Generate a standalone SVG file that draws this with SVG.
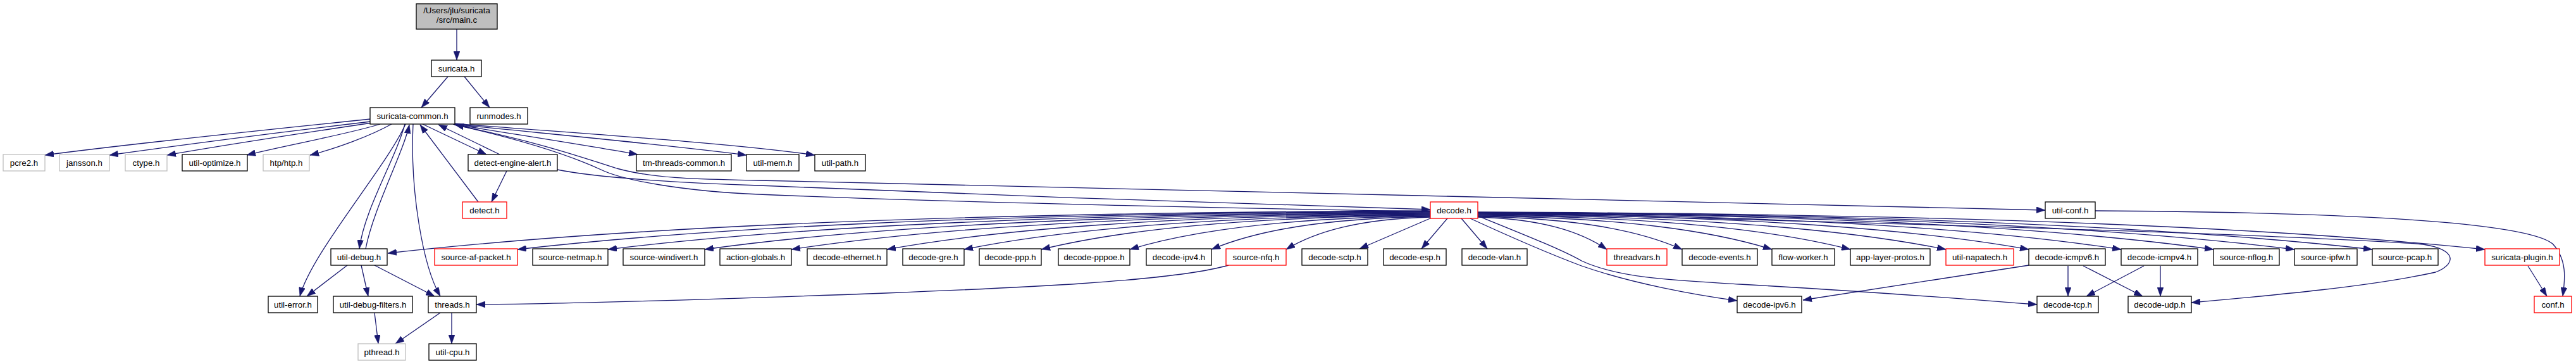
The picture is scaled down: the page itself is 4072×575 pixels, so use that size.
<svg xmlns="http://www.w3.org/2000/svg" width="4072" height="575" viewBox="0 0 4072 575">
<style>
text{font-family:"Liberation Sans",Arial,sans-serif;font-size:13.3px;fill:#000;text-anchor:middle}
.n rect{fill:#fff;stroke:#000;stroke-width:1.3}
.g rect{fill:#fff;stroke:#bfbfbf;stroke-width:1.3}
.r rect{fill:#fff;stroke:#ff0000;stroke-width:1.3}
.root rect{fill:#bfbfbf;stroke:#000;stroke-width:1.3}
#edges path{fill:none;stroke:#191970;stroke-width:1.3;marker-end:url(#arr)}
</style>
<defs>
<marker id="arr" markerUnits="userSpaceOnUse" markerWidth="14" markerHeight="10" viewBox="0 0 14 10" refX="14" refY="5" orient="auto">
<path d="M0,0 L14,5 L0,10 z" fill="#191970" stroke="#191970" stroke-width="0.5"/>
</marker>
</defs>
<rect width="4072" height="575" fill="#fff"/>
<g id="edges">
<path d="M722,46 L722,95"/>
<path d="M708,121 L666,170"/>
<path d="M734,121 L774,170"/>
<path d="M586,188 C420,205 200,228 71,245"/>
<path d="M586,192 C450,208 280,230 173,245"/>
<path d="M588,194 C480,210 350,230 264,245"/>
<path d="M601,196 C550,212 440,232 390,245"/>
<path d="M619,196 C585,215 530,235 490,245"/>
<path d="M641,196 C612,262 492,400 474,468"/>
<path d="M640,196 C626,250 576,330 568,393"/>
<path d="M578,393 C590,330 638,240 647,197"/>
<path d="M653,196 C648,300 668,420 696,468"/>
<path d="M756,319 L664,197"/>
<path d="M668,196 L769,244"/>
<path d="M790,244 L693,197"/>
<path d="M801,270 L777,319"/>
<path d="M716,196 C800,210 930,230 1008,244"/>
<path d="M716,196 C850,210 1050,228 1180,245"/>
<path d="M716,195 C900,210 1150,225 1288,245"/>
<path d="M718,197 C860,226 930,252 975,266 C1040,284 1120,283 1200,285 C1700,298 2700,318 3233,332"/>
<path d="M881,268 C950,282 1100,290 1200,293 C1500,305 2000,325 2261,331"/>
<path d="M2261,334 C2000,330 1500,320 1200,307 C1080,302 985,285 950,268 C900,245 830,222 719,197"/>
<path d="M2261,333 C1437,336 943,363 613,400"/>
<path d="M2261,334 C1540,337 1107,361 818,394"/>
<path d="M2261,335 C1611,338 1221,362 961,394"/>
<path d="M2261,336 C1688,339 1343,362 1114,394"/>
<path d="M2261,337 C1756,340 1453,363 1251,394"/>
<path d="M2261,338 C1832,341 1574,363 1402,394"/>
<path d="M2261,339 C1893,342 1671,364 1524,394"/>
<path d="M2261,340 C1954,343 1769,364 1646,394"/>
<path d="M2261,341 C2024,344 1881,365 1786,394"/>
<path d="M2261,342 C2088,345 1984,365 1915,394"/>
<path d="M2261,343 C2147,346 2079,366 2033,394"/>
<path d="M2263,344 L2149,393"/>
<path d="M2288,345 L2247,393"/>
<path d="M2310,345 L2351,393"/>
<path d="M2324,345 C2400,380 2460,405 2500,420 C2580,448 2680,466 2746,475"/>
<path d="M2336,341 C2420,375 2470,395 2500,412 C2560,440 2650,443 2750,449 C2950,460 3100,472 3220,481"/>
<path d="M2336,336 C2900,350 3600,370 3820,385 C3880,390 3888,415 3850,430 C3750,452 3600,466 3464,478"/>
<path d="M2336,343 C2438,346 2499,366 2540,394"/>
<path d="M2336,342 C2498,345 2594,365 2659,394"/>
<path d="M2336,341 C2569,344 2708,365 2801,394"/>
<path d="M2336,340 C2631,343 2807,364 2925,394"/>
<path d="M2336,339 C2706,342 2928,364 3076,394"/>
<path d="M2336,338 C2772,341 3033,363 3207,394"/>
<path d="M2336,337 C2845,340 3150,363 3353,394"/>
<path d="M2336,336.5 C2918,339 3266,362 3499,394"/>
<path d="M2336,336 C2982,339 3369,362 3627,394"/>
<path d="M2336,335.5 C3043,338 3467,362 3750,394"/>
<path d="M2336,335 C3132,338 3610,361 3928,394"/>
<path d="M3207,419 L2850,474"/>
<path d="M3269,420 L3269,468"/>
<path d="M3293,420 L3387,468"/>
<path d="M3389,420 L3298,468"/>
<path d="M3415,420 L3415,468"/>
<path d="M3312,333 C3700,335 3990,350 4035,385 C4058,410 4055,440 4051,468"/>
<path d="M3996,420 L4026,468"/>
<path d="M1942,419 C1850,445 1600,455 1400,463 C1100,474 900,480 753,481"/>
<path d="M549,419 L485,468"/>
<path d="M571,419 L582,468"/>
<path d="M592,419 L687,468"/>
<path d="M592,494 L598,543"/>
<path d="M696,494 L625,543"/>
<path d="M714,494 L714,543"/>
</g>
<g id="node-main" class="root"><rect x="658" y="6" width="128" height="40"/><text x="722" y="21">/Users/jlu/suricata</text><text x="722" y="36">/src/main.c</text></g>
<g id="node-suricata" class="n"><rect x="682" y="95" width="79" height="26"/><text x="721.5" y="112.5">suricata.h</text></g>
<g id="node-suricata-common" class="n"><rect x="585" y="170" width="134" height="26"/><text x="652" y="187.5">suricata-common.h</text></g>
<g id="node-runmodes" class="n"><rect x="743" y="170" width="91" height="26"/><text x="788.5" y="187.5">runmodes.h</text></g>
<g id="node-pcre2" class="g"><rect x="5" y="244" width="66" height="26"/><text x="38" y="261.5">pcre2.h</text></g>
<g id="node-jansson" class="g"><rect x="94" y="244" width="79" height="26"/><text x="133.5" y="261.5">jansson.h</text></g>
<g id="node-ctype" class="g"><rect x="198" y="244" width="66" height="26"/><text x="231" y="261.5">ctype.h</text></g>
<g id="node-util-optimize" class="n"><rect x="288" y="244" width="103" height="26"/><text x="339.5" y="261.5">util-optimize.h</text></g>
<g id="node-htp" class="g"><rect x="416" y="244" width="73" height="26"/><text x="452.5" y="261.5">htp/htp.h</text></g>
<g id="node-detect-engine-alert" class="n"><rect x="740" y="244" width="141" height="26"/><text x="810.5" y="261.5">detect-engine-alert.h</text></g>
<g id="node-tm-threads-common" class="n"><rect x="1006" y="244" width="150" height="26"/><text x="1081" y="261.5">tm-threads-common.h</text></g>
<g id="node-util-mem" class="n"><rect x="1180" y="244" width="83" height="26"/><text x="1221.5" y="261.5">util-mem.h</text></g>
<g id="node-util-path" class="n"><rect x="1288" y="244" width="80" height="26"/><text x="1328" y="261.5">util-path.h</text></g>
<g id="node-detect" class="r"><rect x="731" y="319" width="70" height="26"/><text x="766" y="336.5">detect.h</text></g>
<g id="node-decode" class="r"><rect x="2261" y="319" width="75" height="26"/><text x="2298.5" y="336.5">decode.h</text></g>
<g id="node-util-conf" class="n"><rect x="3233" y="319" width="79" height="26"/><text x="3272.5" y="336.5">util-conf.h</text></g>
<g id="node-util-debug" class="n"><rect x="523" y="393" width="89" height="26"/><text x="567.5" y="410.5">util-debug.h</text></g>
<g id="node-source-af-packet" class="r"><rect x="687" y="393" width="131" height="26"/><text x="752.5" y="410.5">source-af-packet.h</text></g>
<g id="node-source-netmap" class="n"><rect x="842" y="393" width="119" height="26"/><text x="901.5" y="410.5">source-netmap.h</text></g>
<g id="node-source-windivert" class="n"><rect x="985" y="393" width="129" height="26"/><text x="1049.5" y="410.5">source-windivert.h</text></g>
<g id="node-action-globals" class="n"><rect x="1138" y="393" width="113" height="26"/><text x="1194.5" y="410.5">action-globals.h</text></g>
<g id="node-decode-ethernet" class="n"><rect x="1276" y="393" width="126" height="26"/><text x="1339" y="410.5">decode-ethernet.h</text></g>
<g id="node-decode-gre" class="n"><rect x="1427" y="393" width="97" height="26"/><text x="1475.5" y="410.5">decode-gre.h</text></g>
<g id="node-decode-ppp" class="n"><rect x="1548" y="393" width="98" height="26"/><text x="1597" y="410.5">decode-ppp.h</text></g>
<g id="node-decode-pppoe" class="n"><rect x="1673" y="393" width="113" height="26"/><text x="1729.5" y="410.5">decode-pppoe.h</text></g>
<g id="node-decode-ipv4" class="n"><rect x="1812" y="393" width="103" height="26"/><text x="1863.5" y="410.5">decode-ipv4.h</text></g>
<g id="node-source-nfq" class="r"><rect x="1938" y="393" width="95" height="26"/><text x="1985.5" y="410.5">source-nfq.h</text></g>
<g id="node-decode-sctp" class="n"><rect x="2058" y="393" width="104" height="26"/><text x="2110" y="410.5">decode-sctp.h</text></g>
<g id="node-decode-esp" class="n"><rect x="2187" y="393" width="99" height="26"/><text x="2236.5" y="410.5">decode-esp.h</text></g>
<g id="node-decode-vlan" class="n"><rect x="2311" y="393" width="103" height="26"/><text x="2362.5" y="410.5">decode-vlan.h</text></g>
<g id="node-threadvars" class="r"><rect x="2540" y="393" width="95" height="26"/><text x="2587.5" y="410.5">threadvars.h</text></g>
<g id="node-decode-events" class="n"><rect x="2659" y="393" width="119" height="26"/><text x="2718.5" y="410.5">decode-events.h</text></g>
<g id="node-flow-worker" class="n"><rect x="2801" y="393" width="99" height="26"/><text x="2850.5" y="410.5">flow-worker.h</text></g>
<g id="node-app-layer-protos" class="n"><rect x="2925" y="393" width="126" height="26"/><text x="2988" y="410.5">app-layer-protos.h</text></g>
<g id="node-util-napatech" class="r"><rect x="3076" y="393" width="107" height="26"/><text x="3129.5" y="410.5">util-napatech.h</text></g>
<g id="node-decode-icmpv6" class="n"><rect x="3207" y="393" width="121" height="26"/><text x="3267.5" y="410.5">decode-icmpv6.h</text></g>
<g id="node-decode-icmpv4" class="n"><rect x="3353" y="393" width="121" height="26"/><text x="3413.5" y="410.5">decode-icmpv4.h</text></g>
<g id="node-source-nflog" class="n"><rect x="3499" y="393" width="104" height="26"/><text x="3551" y="410.5">source-nflog.h</text></g>
<g id="node-source-ipfw" class="n"><rect x="3627" y="393" width="99" height="26"/><text x="3676.5" y="410.5">source-ipfw.h</text></g>
<g id="node-source-pcap" class="n"><rect x="3750" y="393" width="104" height="26"/><text x="3802" y="410.5">source-pcap.h</text></g>
<g id="node-suricata-plugin" class="r"><rect x="3928" y="393" width="118" height="26"/><text x="3987" y="410.5">suricata-plugin.h</text></g>
<g id="node-util-error" class="n"><rect x="424" y="468" width="78" height="26"/><text x="463" y="485.5">util-error.h</text></g>
<g id="node-util-debug-filters" class="n"><rect x="527" y="468" width="125" height="26"/><text x="589.5" y="485.5">util-debug-filters.h</text></g>
<g id="node-threads" class="n"><rect x="677" y="468" width="76" height="26"/><text x="715" y="485.5">threads.h</text></g>
<g id="node-decode-ipv6" class="n"><rect x="2746" y="468" width="102" height="26"/><text x="2797" y="485.5">decode-ipv6.h</text></g>
<g id="node-decode-tcp" class="n"><rect x="3220" y="468" width="97" height="26"/><text x="3268.5" y="485.5">decode-tcp.h</text></g>
<g id="node-decode-udp" class="n"><rect x="3364" y="468" width="100" height="26"/><text x="3414" y="485.5">decode-udp.h</text></g>
<g id="node-conf" class="r"><rect x="4006" y="468" width="59" height="26"/><text x="4035.5" y="485.5">conf.h</text></g>
<g id="node-pthread" class="g"><rect x="566" y="543" width="75" height="26"/><text x="603.5" y="560.5">pthread.h</text></g>
<g id="node-util-cpu" class="n"><rect x="678" y="543" width="75" height="26"/><text x="715.5" y="560.5">util-cpu.h</text></g>
</svg>
